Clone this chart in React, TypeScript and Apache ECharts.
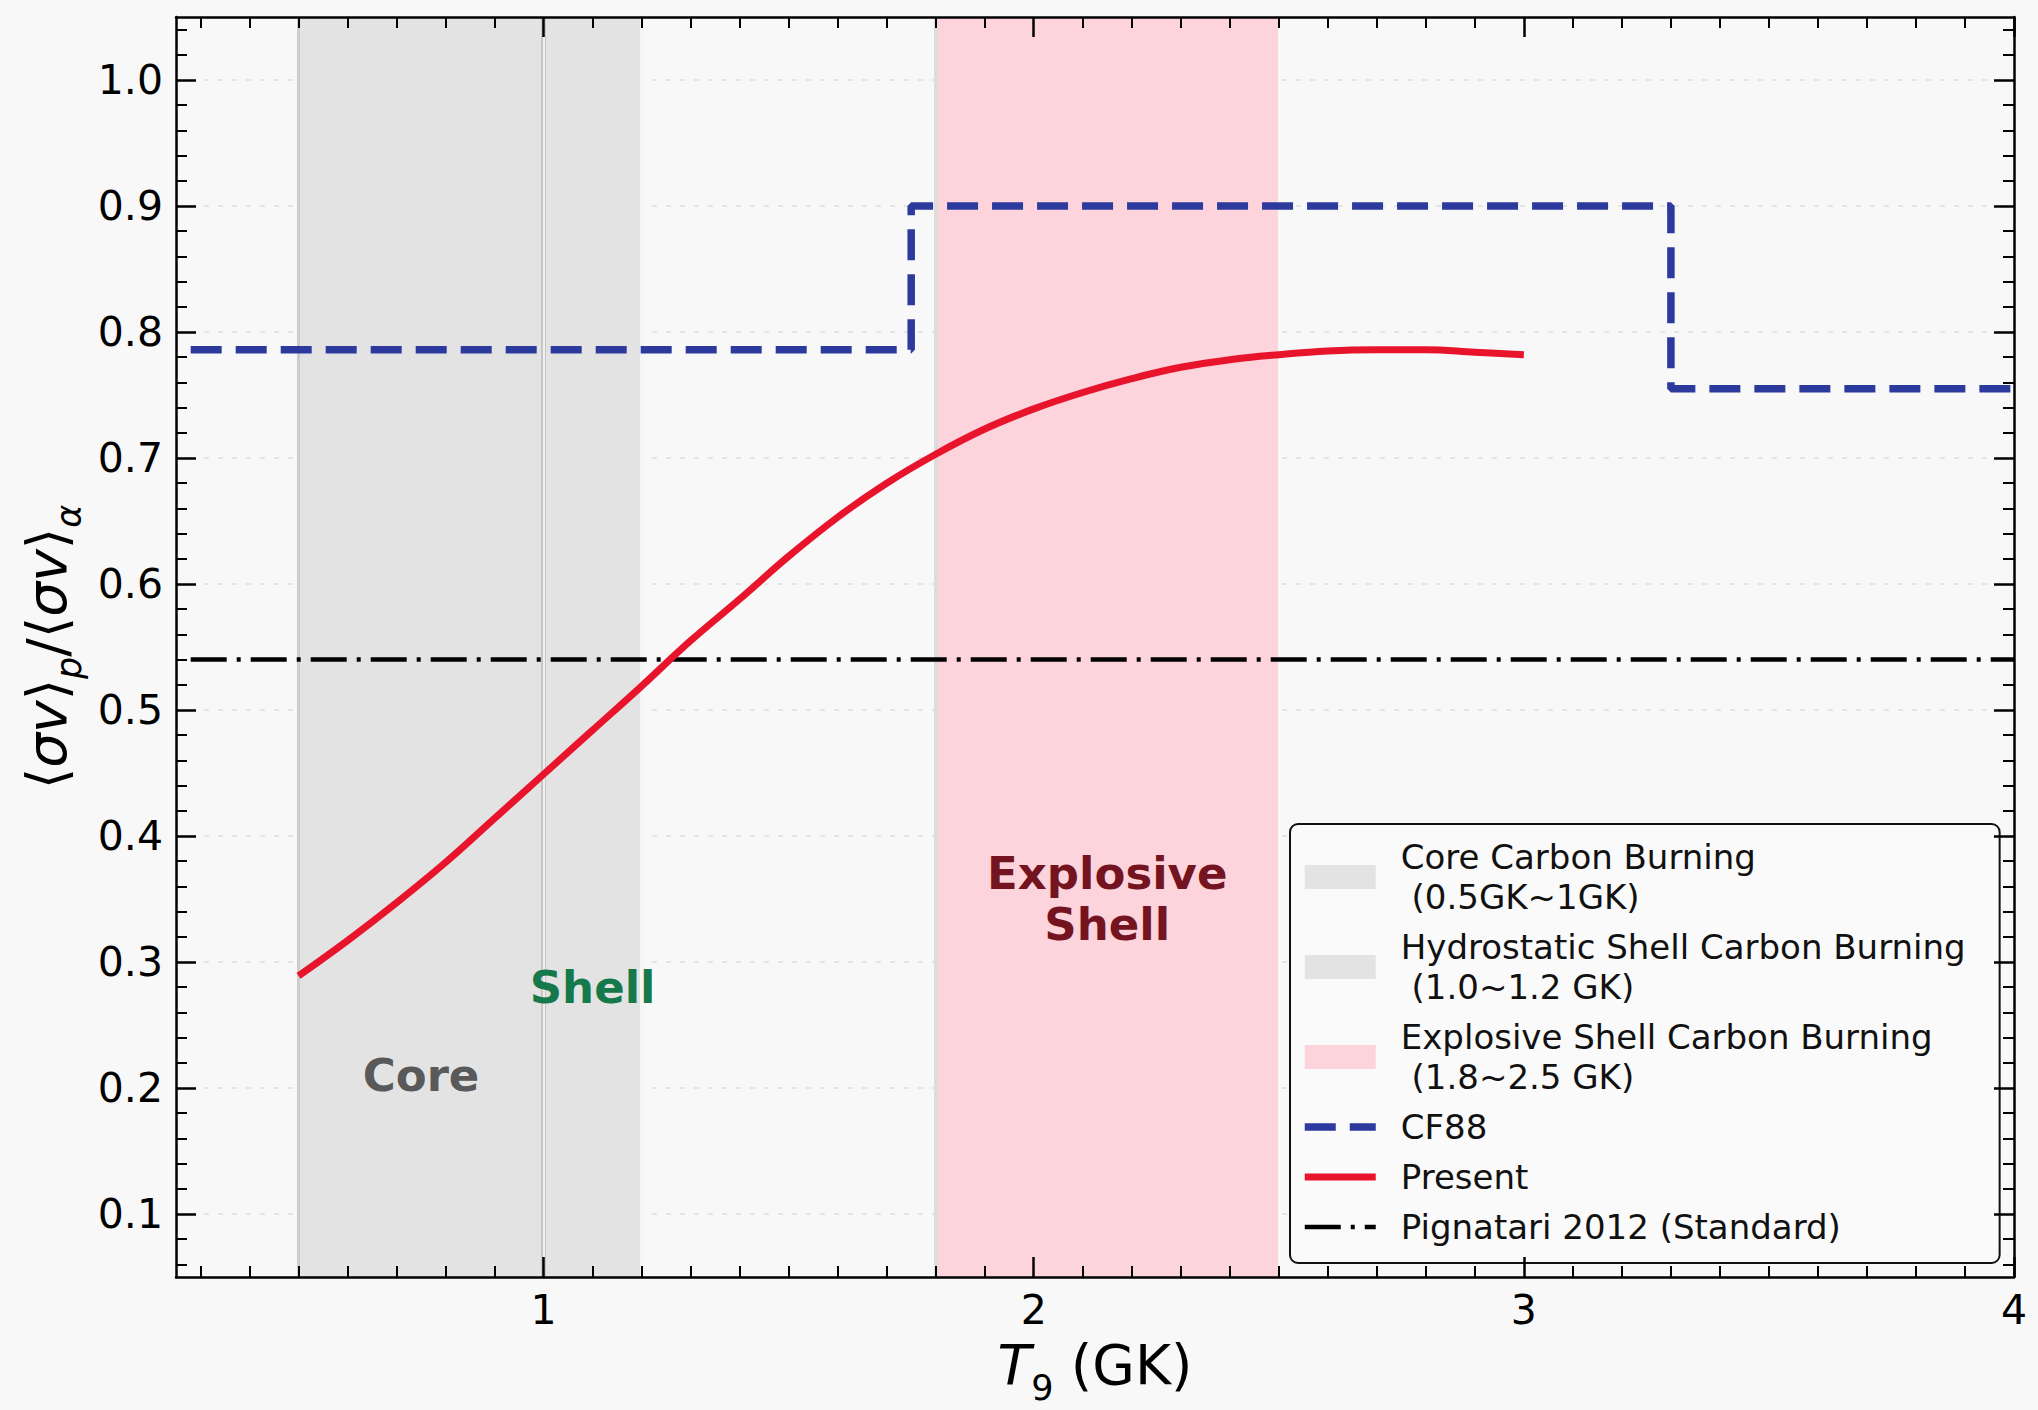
import React, { useEffect, useRef } from "react";
import * as echarts from "echarts";

const FONT = "DejaVu Sans";

// axis ranges and ticks
const X_MIN = 0.25;
const X_MAX = 4;
const Y_MIN = 0.05;
const Y_MAX = 1.05;
const xMajorTicks = [1, 2, 3, 4];
const yMajorTicks = [0.1, 0.2, 0.3, 0.4, 0.5, 0.6, 0.7, 0.8, 0.9, 1.0];
const xMinorTicks: number[] = [];
for (let i = 3; i < 40; i++) if (i % 10 !== 0) xMinorTicks.push(+(i / 10).toFixed(1));
const yMinorTicks: number[] = [];
for (let i = 3; i <= 52; i++) if (i % 5 !== 0) yMinorTicks.push(+(i * 0.02).toFixed(2));

// Present (this work)
const presentT9 = [
  0.5, 0.6, 0.7, 0.8, 0.9, 1.0, 1.1, 1.2, 1.3, 1.4, 1.5, 1.6, 1.7,
  1.8, 1.9, 2.0, 2.1, 2.2, 2.3, 2.4, 2.5, 2.6, 2.7, 2.8, 2.9, 3.0,
];
const presentRatio = [
  0.289, 0.317, 0.347, 0.379, 0.414, 0.449, 0.484, 0.519, 0.555, 0.588, 0.622, 0.653, 0.680,
  0.703, 0.723, 0.739, 0.752, 0.763, 0.772, 0.778, 0.782, 0.785, 0.786, 0.786, 0.784, 0.782,
];

// CF88 (step)
const cf88T9 = [0.28, 1.75, 3.3, 4.0];
const cf88Ratio = [0.786, 0.9, 0.755, 0.755];

// Pignatari 2012 (Standard)
const pigT9 = [0.28, 4.0];
const pigRatio = [0.54, 0.54];

// burning zones (GK)
const coreZone = [0.5, 1.0];
const shellZone = [1.0, 1.2];
const explosiveZone = [1.8, 2.5];

// text annotations
const noteText = ["Core", "Shell", "Explosive\nShell"];
const noteT9 = [0.75, 1.1, 2.15];
const noteRatio = [0.21, 0.28, 0.35];
const noteColor = ["#595959", "#15794b", "#741420"];

const CORE_NAME = "Core Carbon Burning\n (0.5GK~1GK)";
const SHELL_NAME = "Hydrostatic Shell Carbon Burning\n (1.0~1.2 GK)";
const EXPL_NAME = "Explosive Shell Carbon Burning\n (1.8~2.5 GK)";
const PIG_NAME = "Pignatari 2012 (Standard)";

const GRAY = "#e3e3e3";
const PINK = "#fdd3dc";
const BLUE = "#2c3a9e";
const RED = "#e8142c";

const spine = { show: true, onZero: false, lineStyle: { color: "#000", width: 2.5 } };
const noLine = { show: false, onZero: false };

function tickAxis(kind: "x" | "y", position: string, values: number[], major: boolean, label?: any) {
  return {
    type: "value",
    min: kind === "x" ? X_MIN : Y_MIN,
    max: kind === "x" ? X_MAX : Y_MAX,
    position,
    z: 10,
    silent: true,
    axisLine: major ? spine : noLine,
    axisTick: {
      show: true,
      inside: true,
      customValues: values,
      length: major ? 20 : 11,
      lineStyle: { color: "#000", width: major ? 2.5 : 2 },
    },
    axisLabel: label ? { ...label, customValues: values } : { show: false },
    splitLine: { show: false },
    minorTick: { show: false },
  };
}

const rich = {
  n: { fontFamily: FONT, fontSize: 55, lineHeight: 80, color: "#000", verticalAlign: "middle" },
  i: { fontFamily: FONT, fontSize: 55, lineHeight: 80, color: "#000", fontStyle: "italic", verticalAlign: "middle" },
  s: { fontFamily: FONT, fontSize: 35, lineHeight: 34, color: "#000", verticalAlign: "bottom" },
  si: { fontFamily: FONT, fontSize: 35, lineHeight: 34, color: "#000", fontStyle: "italic", verticalAlign: "bottom" },
};

const tickLabel = { fontFamily: FONT, fontSize: 41, color: "#000" };
const hideSymbol = { opacity: 0 };

const App: React.FC = () => {
  const ref = useRef<HTMLDivElement>(null);

  useEffect(() => {
    if (!ref.current) return;
    const chart = echarts.init(ref.current, null, { renderer: "svg" });

    const xBottom: any = tickAxis("x", "bottom", xMajorTicks, true, {
      ...tickLabel,
      margin: 12,
      formatter: (v: number) => String(v),
    });
    xBottom.name = "{i|T}{s|9}{n| (GK)}";
    xBottom.nameLocation = "middle";
    xBottom.nameGap = 48;
    xBottom.nameTextStyle = { rich };

    const yLeft: any = tickAxis("y", "left", yMajorTicks, true, {
      ...tickLabel,
      margin: 13,
      formatter: (v: number) => v.toFixed(1),
    });
    yLeft.name = "{n|⟨}{i|σv}{n|⟩}{si|p}{n|/⟨}{i|σv}{n|⟩}{si|α}";
    yLeft.nameLocation = "middle";
    yLeft.nameRotate = 90;
    yLeft.nameGap = 86;
    yLeft.nameTextStyle = { rich };

    const option: any = {
      animation: false,
      backgroundColor: "#f8f8f8",
      textStyle: { fontFamily: FONT },
      grid: { left: 176, top: 17, width: 1838, height: 1264, containLabel: false },
      xAxis: [
        xBottom,
        tickAxis("x", "bottom", xMinorTicks, false),
        tickAxis("x", "top", xMajorTicks, true),
        tickAxis("x", "top", xMinorTicks, false),
      ],
      yAxis: [
        yLeft,
        tickAxis("y", "left", yMinorTicks, false),
        tickAxis("y", "right", yMajorTicks, true),
        tickAxis("y", "right", yMinorTicks, false),
        {
          type: "value",
          min: Y_MIN,
          max: Y_MAX,
          position: "left",
          z: 0,
          silent: true,
          axisLine: noLine,
          axisTick: { show: false, customValues: yMajorTicks },
          axisLabel: { show: false },
          splitLine: { show: true, lineStyle: { color: "#e4e4e4", width: 2, type: [5, 9] } },
        },
      ],
      legend: {
        orient: "vertical",
        left: 1290,
        top: 824,
        selectedMode: false,
        data: [
          { name: CORE_NAME, icon: "rect" },
          { name: SHELL_NAME, icon: "rect" },
          { name: EXPL_NAME, icon: "rect" },
          { name: "CF88", itemStyle: hideSymbol },
          { name: "Present", itemStyle: hideSymbol },
          { name: PIG_NAME, itemStyle: hideSymbol },
        ],
        itemWidth: 71,
        itemHeight: 24,
        itemGap: 10,
        padding: [13, 34, 16, 11],
        lineStyle: { width: "inherit", type: "inherit", cap: "butt" },
        backgroundColor: "rgba(250,250,250,0.9)",
        borderColor: "#111",
        borderWidth: 2,
        borderRadius: 8,
        textStyle: { fontFamily: FONT, fontSize: 34, lineHeight: 40, color: "#111", padding: [0, 0, 0, 20] },
      },
      series: [
        {
          name: "zones",
          type: "line",
          data: [],
          z: 1,
          silent: true,
          markArea: {
            silent: true,
            z: 1,
            data: [
              [{ xAxis: coreZone[0], itemStyle: { color: GRAY } }, { xAxis: coreZone[1] }],
              [{ xAxis: shellZone[0], itemStyle: { color: GRAY } }, { xAxis: shellZone[1] }],
              [{ xAxis: explosiveZone[0], itemStyle: { color: PINK } }, { xAxis: explosiveZone[1] }],
            ],
          },
          markLine: {
            silent: true,
            z: 1,
            symbol: "none",
            label: { show: false },
            data: [
              { xAxis: coreZone[0], lineStyle: { color: "#cdcdcd", width: 3, type: "solid" } },
              { xAxis: coreZone[1], lineStyle: { color: "#c6c6c6", width: 5, type: "solid" } },
              { xAxis: shellZone[0], lineStyle: { color: "#efefef", width: 2, type: "solid" } },
              { xAxis: shellZone[1], lineStyle: { color: "#f6f6f6", width: 3, type: "solid" } },
              { xAxis: explosiveZone[0], lineStyle: { color: "#dcdcdc", width: 4, type: "solid" } },
              { xAxis: explosiveZone[1], lineStyle: { color: "#f8f8f8", width: 3, type: "solid" } },
            ],
          },
        },
        { name: CORE_NAME, type: "line", data: [], symbol: "none", itemStyle: { color: GRAY }, lineStyle: { color: GRAY } },
        { name: SHELL_NAME, type: "line", data: [], symbol: "none", itemStyle: { color: GRAY }, lineStyle: { color: GRAY } },
        { name: EXPL_NAME, type: "line", data: [], symbol: "none", itemStyle: { color: PINK }, lineStyle: { color: PINK } },
        {
          name: "CF88",
          type: "line",
          step: "end",
          z: 6,
          symbol: "none",
          data: cf88T9.map((x, i) => [x, cf88Ratio[i]]),
          itemStyle: { color: BLUE },
          lineStyle: { color: BLUE, width: 7.5, type: [31, 14], cap: "butt" },
        },
        {
          name: "Present",
          type: "line",
          z: 7,
          symbol: "none",
          smooth: 0.4,
          data: presentT9.map((x, i) => [x, presentRatio[i]]),
          itemStyle: { color: RED },
          lineStyle: { color: RED, width: 7 },
        },
        {
          name: PIG_NAME,
          type: "line",
          z: 6,
          symbol: "none",
          data: pigT9.map((x, i) => [x, pigRatio[i]]),
          itemStyle: { color: "#000" },
          lineStyle: { color: "#000", width: 4.5, type: [36, 10, 4, 10], cap: "butt" },
        },
        {
          name: "notes",
          type: "scatter",
          z: 8,
          silent: true,
          symbolSize: 0,
          itemStyle: { opacity: 1 },
          data: noteText.map((t, i) => ({
            name: t,
            value: [noteT9[i], noteRatio[i]],
            label: { color: noteColor[i] },
          })),
          label: {
            show: true,
            position: "inside",
            formatter: "{b}",
            fontFamily: FONT,
            fontWeight: "bold",
            fontSize: 45,
            lineHeight: 51,
            align: "center",
          },
        },
      ],
    };

    chart.setOption(option);
    return () => {
      chart.dispose();
    };
  }, []);

  return (
    <div
      ref={ref}
      style={{ position: "fixed", left: 0, top: 0, width: 2038, height: 1410, background: "#f8f8f8" }}
    />
  );
};

export default App;
